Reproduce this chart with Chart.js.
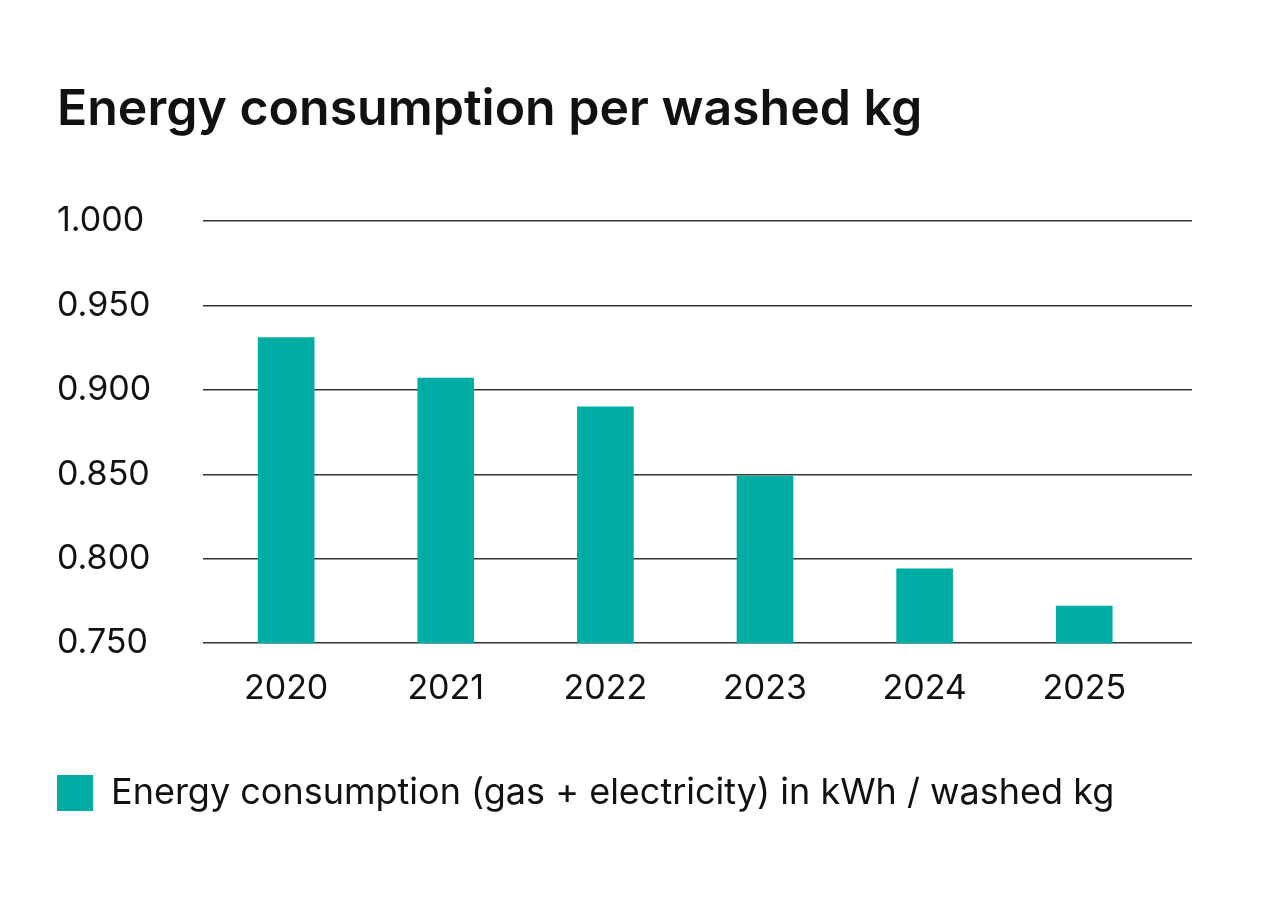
<!DOCTYPE html>
<html>
<head>
<meta charset="utf-8">
<script src="https://cdn.jsdelivr.net/npm/chart.js@4"></script>
<style>
  html, body { margin: 0; padding: 0; background: #fff; }
  #wrap { width: 1275px; height: 900px; }
</style>
</head>
<body>
<div id="wrap"><canvas id="grafico"></canvas></div>
<script>
const years = ['2020', '2021', '2022', '2023', '2024', '2025'];
const energia = [0.931, 0.907, 0.890, 0.849, 0.794, 0.772];
const yTicks = [0.75, 0.8, 0.85, 0.9, 0.95, 1.0];
const titulo = 'Energy consumption per washed kg';
const leyenda = 'Energy consumption (gas + electricity) in kWh / washed kg';

const verde = '#00ADA4';
const fuente = 'Inter';

const ctx = document.getElementById('grafico');
new Chart(ctx, {
  type: 'bar',
  data: {
    datasets: [{
      label: leyenda,
      data: energia.map((v, i) => ({ x: i, y: v })),
      backgroundColor: verde,
      borderWidth: 0,
      barThickness: 56,
    }],
  },
  options: {
    responsive: true,
    maintainAspectRatio: false,
    animation: false,
    layout: { padding: { top: 80, left: 57, right: 83, bottom: 79 } },
    plugins: {
      title: {
        display: true,
        text: titulo,
        align: 'start',
        color: '#111',
        font: { family: fuente, size: 50, weight: '600' },
        padding: { top: 0, bottom: 81 },
      },
      legend: {
        position: 'bottom',
        align: 'start',
        labels: {
          color: '#111',
          font: { family: fuente, size: 36 },
          boxWidth: 36,
          boxHeight: 36,
          padding: 0,
        },
      },
      tooltip: { enabled: false },
    },
    scales: {
      x: {
        type: 'linear',
        offset: false,
        min: -0.52,
        max: 5.675,
        grid: { display: false },
        border: { display: false },
        afterBuildTicks: (scale) => {
          scale.ticks = years.map((_, i) => ({ value: i }));
        },
        afterFit: (scale) => {
          scale.paddingLeft = 0;
          scale.paddingRight = 0;
        },
        ticks: {
          color: '#111',
          font: { family: fuente, size: 34 },
          padding: 17,
          callback: (v) => years[v],
        },
        title: {
          display: true,
          text: ' ',
          font: { size: 20 },
          padding: { top: 0, bottom: 25 },
        },
      },
      y: {
        min: 0.75,
        max: 1.0,
        afterBuildTicks: (scale) => {
          scale.ticks = yTicks.map((v) => ({ value: v }));
        },
        grid: { color: '#333', lineWidth: 1.5, drawTicks: false },
        border: { display: false },
        ticks: {
          color: '#111',
          font: { family: fuente, size: 34 },
          crossAlign: 'far',
          padding: 26,
          callback: (v) => Number(v).toFixed(3),
        },
      },
    },
  },
});
</script>
</body>
</html>
